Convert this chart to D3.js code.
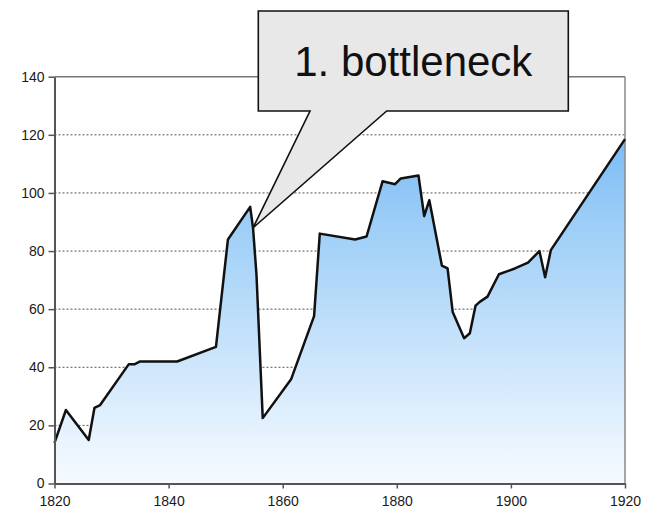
<!DOCTYPE html>
<html><head><meta charset="utf-8">
<script src="https://cdn.jsdelivr.net/npm/d3@7"></script>
<style>
html,body{margin:0;padding:0;background:#fff;}
svg{display:block;font-family:"Liberation Sans",Arial,Helvetica,sans-serif;}
</style></head>
<body><svg id="c" width="654" height="509"></svg>
<script>
const years = [1820,1822,1826,1827,1828,1833,1834,1835,1841.5,1848.3,1850.4,1854.3,1854.8,1855.4,1856.5,1861.5,1865.5,1866.5,1872.7,1874.7,1877.5,1879.7,1880.7,1883.8,1884.8,1885.7,1887.9,1888.9,1889.8,1891.8,1892.8,1893.8,1894.6,1895.9,1897.9,1900.7,1903,1905,1906,1907,1920];
const values = [14,25.3,15,26,27,41,41,42,42,47,84,95.2,88,72,22.5,36,57.6,86,84,85,104,103,105,106,92,97.5,75,74,59,50,51.7,61.2,62.6,64.3,72,74,76,80,71,80.3,118.5];
const xTicks = [1820,1840,1860,1880,1900,1920];
const yTicks = [0,20,40,60,80,100,120,140];
const calloutText = "1. bottleneck";
const calloutYear = 1854.8, calloutValue = 88;

const data = years.map((y,i)=>({year:y,value:values[i]}));
const svg = d3.select("#c");
const L=54.5, R=625, T=76.7, B=483.5;
const x = d3.scaleLinear().domain([1820,1920]).range([L,R]);
const y = d3.scaleLinear().domain([0,140]).range([B,T]);

const defs = svg.append("defs");
const g = defs.append("linearGradient").attr("id","fill").attr("gradientUnits","userSpaceOnUse")
  .attr("x1",0).attr("x2",0).attr("y1",T).attr("y2",B);
g.append("stop").attr("offset",0).attr("stop-color","#62aef2");
g.append("stop").attr("offset",0.35).attr("stop-color","#9bcdf7");
g.append("stop").attr("offset",1).attr("stop-color","#f7fbff");

// gridlines
svg.append("g").selectAll("line").data(yTicks.filter(d=>d>0&&d<140)).join("line")
  .attr("x1",L).attr("x2",R).attr("y1",d=>y(d)).attr("y2",d=>y(d))
  .attr("stroke","#555").attr("stroke-width",1).attr("stroke-dasharray","2,2");

// area
svg.append("path").datum(data)
  .attr("d",d3.area().x(d=>x(d.year)).y0(y(0)).y1(d=>y(d.value)))
  .attr("fill","url(#fill)");

// frame top & right
svg.append("line").attr("x1",L).attr("x2",R).attr("y1",T).attr("y2",T).attr("stroke","#777").attr("stroke-width",1.5);
svg.append("line").attr("x1",R).attr("x2",R).attr("y1",T).attr("y2",B).attr("stroke","#888").attr("stroke-width",1.5);

// line
svg.append("path").datum(data)
  .attr("d",d3.line().x(d=>x(d.year)).y(d=>y(d.value)))
  .attr("fill","none").attr("stroke","#111").attr("stroke-width",2.5).attr("stroke-linejoin","round");

// axes
const ax = svg.append("g").attr("transform",`translate(0,${B})`)
  .call(d3.axisBottom(x).tickValues(xTicks).tickFormat(d3.format("d")).tickSize(5).tickSizeOuter(0).tickPadding(8));
const ay = svg.append("g").attr("transform",`translate(${L},0)`)
  .call(d3.axisLeft(y).tickValues(yTicks).tickSize(6).tickSizeOuter(0).tickPadding(4));
[ax,ay].forEach(a=>{
  a.attr("font-size",14).attr("font-family","Liberation Sans, Arial, sans-serif");
  a.select(".domain").attr("stroke","#555").attr("stroke-width",2);
  a.selectAll(".tick line").attr("stroke","#555").attr("stroke-width",1.5);
  a.selectAll("text").style("font-size","14px").attr("fill","#1a1a1a");
});
ax.selectAll("text").attr("dy","0.71em");

// callout
const bx0=258.3, bx1=568.3, by0=11, by1=111, px0=310, px1=386.7;
const tipX = x(calloutYear), tipY = y(calloutValue);
svg.append("path")
  .attr("d",`M${bx0},${by0}H${bx1}V${by1}H${px1}L${tipX},${tipY}L${px0},${by1}H${bx0}Z`)
  .attr("fill","#e8e8e8").attr("stroke","#111").attr("stroke-width",1.6).attr("stroke-linejoin","miter");
svg.append("text").attr("x",(bx0+bx1)/2).attr("y",76).attr("text-anchor","middle")
  .attr("font-size",42).attr("fill","#111").text(calloutText);
</script></body></html>
